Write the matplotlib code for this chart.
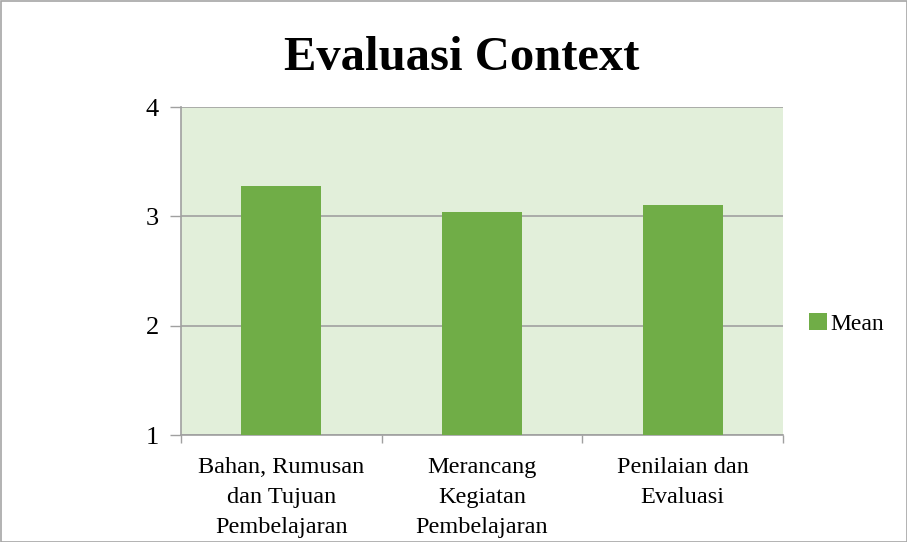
import matplotlib
matplotlib.use("Agg")
import matplotlib.pyplot as plt
from matplotlib.patches import Rectangle
import numpy as np

categories = ["Bahan, Rumusan\ndan Tujuan\nPembelajaran",
              "Merancang\nKegiatan\nPembelajaran",
              "Penilaian dan\nEvaluasi"]
mean_values = [3.28, 3.04, 3.10]
y_ticks = [1, 2, 3, 4]
title = "Evaluasi Context"
series_name = "Mean"

bar_color = "#70AD47"
bg_color = "#E2EFDA"
grid_color = "#A0A0A0"

plt.rcParams['font.family'] = ['Liberation Serif', 'DejaVu Serif']

fig = plt.figure(figsize=(9.07, 5.42), dpi=100)
ax = fig.add_axes([181/907, 1-435/542, (783-181)/907, (435-107)/542])
ax.set_facecolor(bg_color)

x = np.arange(len(categories))
ax.bar(x, [v - 1 for v in mean_values], bottom=1, width=0.4, color=bar_color,
       label=series_name, zorder=3)

ax.set_xlim(-0.5, len(categories) - 0.5)
ax.set_ylim(1, 4)
ax.set_yticks(y_ticks)
ax.set_yticklabels([str(t) for t in y_ticks], fontsize=19)
ax.yaxis.grid(True, color=grid_color, linewidth=1.2, zorder=1)
ax.set_axisbelow(True)

ax.set_xticks(x)
ax.set_xticklabels(categories, fontsize=17.5, linespacing=1.55)
ax.tick_params(axis='x', length=0, pad=16)
ax.set_xticks(np.arange(-0.5, len(categories)), minor=True)
ax.tick_params(axis='x', which='minor', length=6, color=grid_color, width=1)
ax.tick_params(axis='y', length=8, color=grid_color, width=1, pad=8)

for s in ['top', 'right']:
    ax.spines[s].set_visible(False)
for s in ['left', 'bottom']:
    ax.spines[s].set_color(grid_color)
    ax.spines[s].set_linewidth(1.2)

fig.text(462/907, 1-58/542, title, ha='center', va='center',
         fontsize=35, fontweight='bold')

leg = fig.legend(loc='center left', bbox_to_anchor=(800/907, 1-324/542),
                 frameon=False, fontsize=17, handlelength=0.75, handleheight=0.75,
                 handletextpad=0.15, borderaxespad=0)

fig.patches.append(Rectangle((0.5/907, 0.5/542), 1-1/907, 1-1/542,
                             transform=fig.transFigure, fill=False,
                             edgecolor='#A6A6A6', linewidth=1.2))

fig.savefig("out.png", dpi=100, facecolor='white')
